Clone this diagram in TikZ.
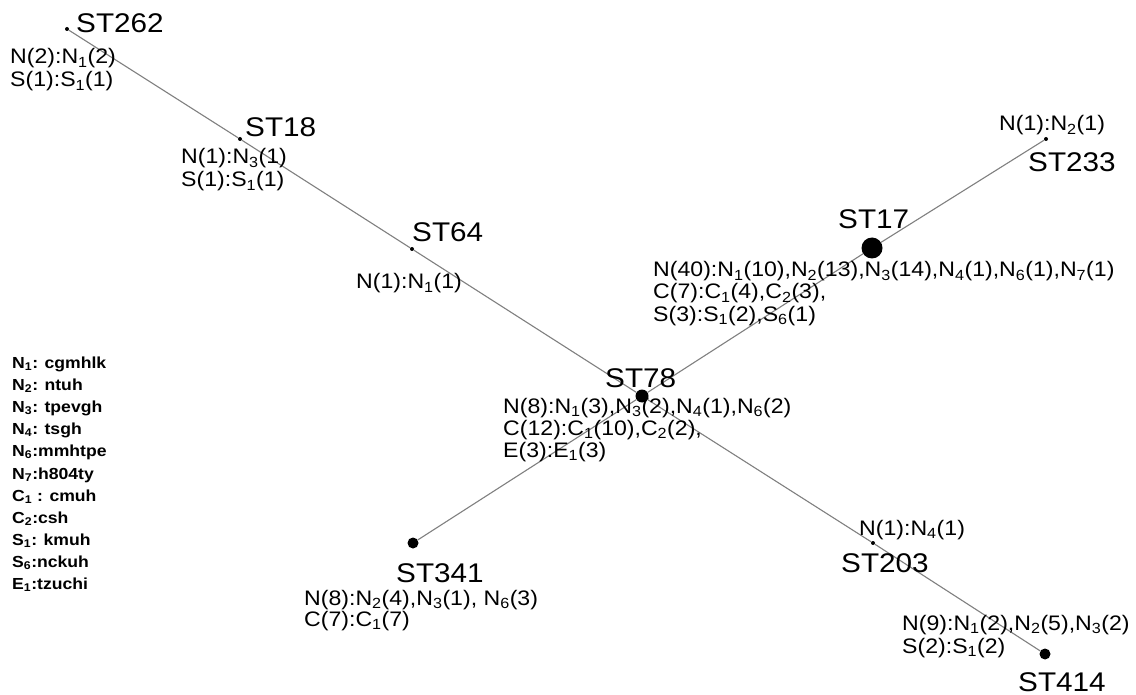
\documentclass[tikz,border=0pt]{standalone}
\usepackage{fontspec}
\setmainfont{Liberation Sans}[FakeStretch=1.1]
\newcommand\subs[1]{\textsubscript{#1}}
\begin{document}
\begin{tikzpicture}[x=1pt,y=-1pt,
  dot/.style={circle,fill=black,inner sep=0pt,minimum size=#1},
  dot/.default=4pt,
  edge/.style={draw=black!50,line width=1.1pt},
  st/.style={anchor=base west,inner sep=0pt,font=\fontsize{27}{27}\selectfont},
  sm/.style={anchor=base west,inner sep=0pt,font=\fontsize{21}{23}\selectfont},
  lg/.style={anchor=base west,inner sep=0pt,font=\fontsize{16}{17}\selectfont\bfseries}]
\useasboundingbox[fill=white] (0,0) rectangle (1136,695);
% haplotype nodes
\node[dot] (st262) at (67,29) {};
\node[dot] (st18) at (240,139) {};
\node[dot] (st64) at (412,249) {};
\node[dot=13pt] (st78) at (642,396) {};
\node[dot] (st203) at (873,543) {};
\node[dot=11pt] (st414) at (1045,654) {};
\node[dot=21pt] (st17) at (872,248) {};
\node[dot] (st233) at (1046,139) {};
\node[dot=11pt] (st341) at (413,543) {};
% connectors
\draw[edge] (st262) -- (st18);
\draw[edge] (st18) -- (st64);
\draw[edge] (st64) -- (st78);
\draw[edge] (st78) -- (st203);
\draw[edge] (st203) -- (st414);
\draw[edge] (st341) -- (st78);
\draw[edge] (st78) -- (st17);
\draw[edge] (st17) -- (st233);
% names
\node[st] (l262) at (76,33) {ST262};
\node[st] (l18) at (245,137) {ST18};
\node[st] (l64) at (412,242) {ST64};
\node[st] (l17) at (838,229) {ST17};
\node[st] (l233) at (1028,172) {ST233};
\node[st] (l78) at (605,387) {ST78};
\node[st] (l341) at (396,582) {ST341};
\node[st] (l203) at (841,572) {ST203};
\node[st] (l414) at (1018,691) {ST414};
% counts
\node[sm] (a262) at (10,64) {N(2):N\subs{1}(2)};
\node[sm] (b262) at (10,87) {S(1):S\subs{1}(1)};
\node[sm] (a18) at (181,164) {N(1):N\subs{3}(1)};
\node[sm] (b18) at (181,187) {S(1):S\subs{1}(1)};
\node[sm] (a64) at (356,289) {N(1):N\subs{1}(1)};
\node[sm] (a233) at (999,131) {N(1):N\subs{2}(1)};
\node[sm] (a17) at (653,277) {N(40):N\subs{1}(10),N\subs{2}(13),N\subs{3}(14),N\subs{4}(1),N\subs{6}(1),N\subs{7}(1)};
\node[sm] (b17) at (653,299) {C(7):C\subs{1}(4),C\subs{2}(3),};
\node[sm] (c17) at (653,321) {S(3):S\subs{1}(2),S\subs{6}(1)};
\node[sm] (a78) at (503,413) {N(8):N\subs{1}(3),N\subs{3}(2),N\subs{4}(1),N\subs{6}(2)};
\node[sm] (b78) at (503,435) {C(12):C\subs{1}(10),C\subs{2}(2),};
\node[sm] (c78) at (503,457) {E(3):E\subs{1}(3)};
\node[sm] (a341) at (304,605) {N(8):N\subs{2}(4),N\subs{3}(1), N\subs{6}(3)};
\node[sm] (b341) at (304,626) {C(7):C\subs{1}(7)};
\node[sm] (a203) at (859,535) {N(1):N\subs{4}(1)};
\node[sm] (a414) at (902,630) {N(9):N\subs{1}(2),N\subs{2}(5),N\subs{3}(2)};
\node[sm] (b414) at (902,653) {S(2):S\subs{1}(2)};
% legend
\node[lg] (k1) at (12,368) {N\subs{1}: cgmhlk};
\node[lg] (k2) at (12,390) {N\subs{2}: ntuh};
\node[lg] (k3) at (12,412) {N\subs{3}: tpevgh};
\node[lg] (k4) at (12,434) {N\subs{4}: tsgh};
\node[lg] (k5) at (12,456) {N\subs{6}:mmhtpe};
\node[lg] (k6) at (12,479) {N\subs{7}:h804ty};
\node[lg] (k7) at (12,501) {C\subs{1} : cmuh};
\node[lg] (k8) at (12,523) {C\subs{2}:csh};
\node[lg] (k9) at (12,545) {S\subs{1}: kmuh};
\node[lg] (k10) at (12,567) {S\subs{6}:nckuh};
\node[lg] (k11) at (12,589) {E\subs{1}:tzuchi};
\end{tikzpicture}
\end{document}
